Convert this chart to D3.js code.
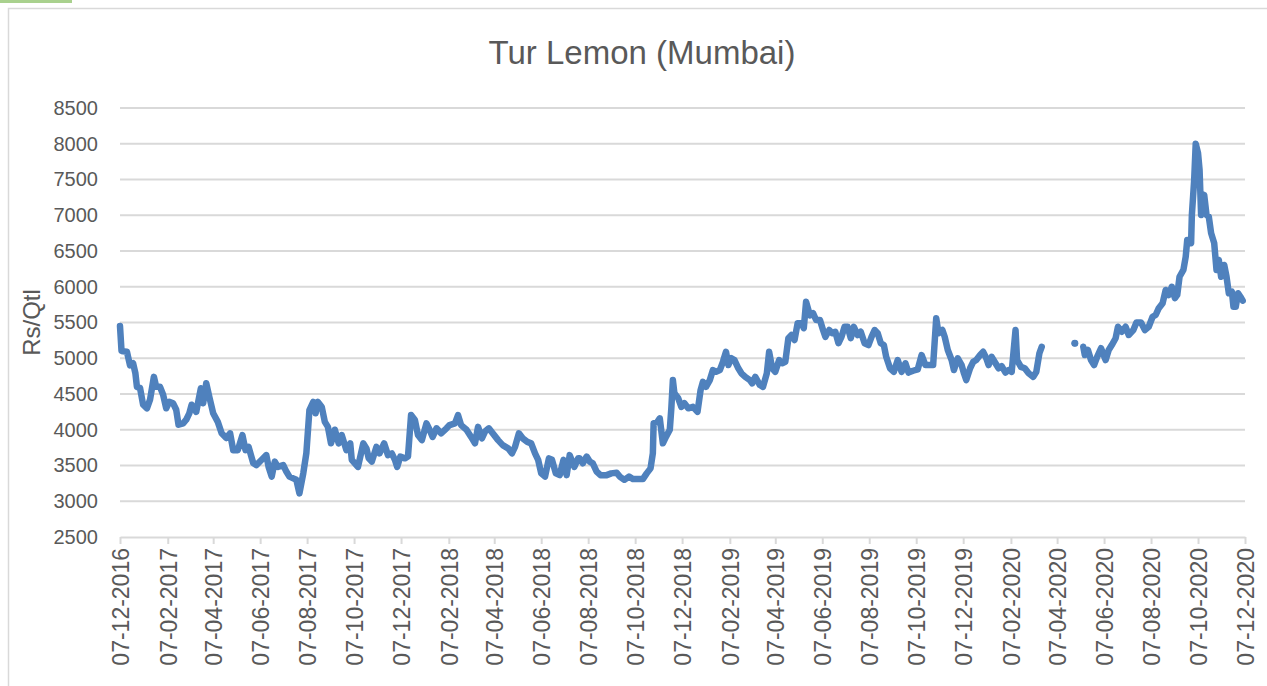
<!DOCTYPE html>
<html>
<head>
<meta charset="utf-8">
<script src="https://cdn.jsdelivr.net/npm/d3@7"></script>
<style>
  body { margin: 0; background: #fff; }
  svg { display: block; font-family: "Liberation Sans", Arial, sans-serif; }
</style>
</head>
<body>
<div id="vis1"></div>
<script>
// daily Tur Lemon price, Mumbai (Rs/Qtl); null = no quote
let dates = [
  "2016-12-07","2016-12-09","2016-12-16","2016-12-20","2016-12-24","2016-12-27","2016-12-29",
  "2017-01-02","2017-01-06","2017-01-11","2017-01-15","2017-01-20","2017-01-23","2017-01-28",
  "2017-02-01","2017-02-05","2017-02-09","2017-02-14","2017-02-18","2017-02-21","2017-02-27",
  "2017-03-03","2017-03-07","2017-03-10","2017-03-16","2017-03-22","2017-03-25","2017-03-29",
  "2017-04-02","2017-04-07","2017-04-13","2017-04-18","2017-04-24","2017-04-29",
  "2017-05-03","2017-05-09","2017-05-15","2017-05-19","2017-05-23","2017-05-29",
  "2017-06-02","2017-06-09","2017-06-15","2017-06-18","2017-06-22","2017-06-26","2017-06-30",
  "2017-07-07","2017-07-11","2017-07-15","2017-07-20","2017-07-24","2017-07-28",
  "2017-08-02","2017-08-06","2017-08-10","2017-08-15","2017-08-18","2017-08-21","2017-08-26","2017-08-30",
  "2017-09-03","2017-09-07","2017-09-12","2017-09-17","2017-09-21","2017-09-27",
  "2017-10-02","2017-10-04","2017-10-08","2017-10-12","2017-10-19","2017-10-23","2017-10-26","2017-10-30",
  "2017-11-05","2017-11-09","2017-11-15","2017-11-20","2017-11-25","2017-11-29",
  "2017-12-02","2017-12-06","2017-12-12","2017-12-16","2017-12-20","2017-12-25","2017-12-29",
  "2018-01-03","2018-01-09","2018-01-13","2018-01-17","2018-01-22","2018-01-28",
  "2018-02-04","2018-02-08","2018-02-15","2018-02-19","2018-02-23",
  "2018-03-02","2018-03-08","2018-03-13","2018-03-17","2018-03-22","2018-03-26","2018-03-31",
  "2018-04-05","2018-04-12","2018-04-18","2018-04-25","2018-04-30",
  "2018-05-04","2018-05-09","2018-05-14","2018-05-20","2018-05-25","2018-05-30",
  "2018-06-03","2018-06-07","2018-06-12","2018-06-17","2018-06-21","2018-06-26",
  "2018-07-01","2018-07-06","2018-07-10","2018-07-14","2018-07-20","2018-07-25","2018-07-27","2018-07-31",
  "2018-08-05","2018-08-09","2018-08-13","2018-08-18","2018-08-23","2018-08-31",
  "2018-09-06","2018-09-13","2018-09-17","2018-09-23","2018-09-29",
  "2018-10-04","2018-10-11","2018-10-17","2018-10-22","2018-10-27","2018-10-30","2018-10-31",
  "2018-11-05","2018-11-08","2018-11-12","2018-11-16","2018-11-21","2018-11-23","2018-11-25","2018-11-27",
  "2018-12-02","2018-12-06","2018-12-10","2018-12-15","2018-12-21","2018-12-27","2018-12-31",
  "2019-01-03","2019-01-07","2019-01-12","2019-01-16","2019-01-20","2019-01-25","2019-01-29",
  "2019-02-02","2019-02-05","2019-02-09","2019-02-13","2019-02-18","2019-02-22","2019-02-27",
  "2019-03-05","2019-03-08","2019-03-12","2019-03-18","2019-03-22","2019-03-27","2019-03-30",
  "2019-04-03","2019-04-07","2019-04-12","2019-04-16","2019-04-20","2019-04-24","2019-04-28",
  "2019-05-02","2019-05-06","2019-05-11","2019-05-14","2019-05-17","2019-05-22","2019-05-26","2019-05-30",
  "2019-06-04","2019-06-08","2019-06-11","2019-06-16","2019-06-20","2019-06-24","2019-06-28",
  "2019-07-02","2019-07-06","2019-07-10","2019-07-14","2019-07-18","2019-07-23","2019-07-27",
  "2019-08-01","2019-08-06","2019-08-10","2019-08-14","2019-08-18","2019-08-22","2019-08-26","2019-08-29",
  "2019-09-03","2019-09-08","2019-09-13","2019-09-18","2019-09-23","2019-09-27",
  "2019-10-03","2019-10-09","2019-10-14","2019-10-19","2019-10-25","2019-10-29",
  "2019-11-02","2019-11-05","2019-11-10","2019-11-13","2019-11-17","2019-11-22","2019-11-25","2019-11-30",
  "2019-12-05","2019-12-08","2019-12-11","2019-12-16","2019-12-20","2019-12-24","2019-12-29",
  "2020-01-02","2020-01-06","2020-01-09","2020-01-13","2020-01-18","2020-01-22","2020-01-26","2020-01-31",
  "2020-02-04","2020-02-08","2020-02-13","2020-02-15","2020-02-20","2020-02-25",
  "2020-03-01","2020-03-07","2020-03-11","2020-03-15","2020-03-18","2020-04-10",
  "2020-04-30","2020-05-05",
  "2020-05-11","2020-05-13","2020-05-17","2020-05-21","2020-05-25","2020-05-29",
  "2020-06-03","2020-06-09","2020-06-13","2020-06-17","2020-06-22","2020-06-25","2020-06-30",
  "2020-07-05","2020-07-09","2020-07-15","2020-07-19","2020-07-25","2020-07-30",
  "2020-08-04","2020-08-09","2020-08-13","2020-08-17","2020-08-22","2020-08-26","2020-08-30",
  "2020-09-03","2020-09-07","2020-09-10","2020-09-13","2020-09-18","2020-09-21","2020-09-23","2020-09-28","2020-09-29",
  "2020-10-02","2020-10-04","2020-10-07","2020-10-09","2020-10-11","2020-10-15","2020-10-18","2020-10-21","2020-10-24","2020-10-28","2020-10-31",
  "2020-11-03","2020-11-06","2020-11-10","2020-11-13","2020-11-16","2020-11-20","2020-11-22","2020-11-25","2020-11-28",
  "2020-12-01","2020-12-04"
];

let prices = [
  5450,5100,5090,4900,4930,4790,4600,
  4585,4350,4300,4420,4740,4600,4600,
  4490,4300,4390,4370,4280,4070,4090,
  4140,4230,4350,4250,4580,4370,4650,
  4460,4230,4110,3950,3885,3950,
  3715,3715,3925,3715,3760,3535,
  3505,3580,3645,3480,3345,3555,3480,
  3505,3415,3345,3320,3300,3110,
  3390,3670,4275,4390,4230,4390,4320,4110,
  4040,3810,4000,3810,3925,3715,
  3810,3580,3530,3480,3810,3740,3600,3555,
  3760,3670,3810,3645,3670,3580,
  3480,3625,3600,3625,4205,4135,3925,
  3855,4090,4000,3900,4020,3950,
  4020,4065,4090,4205,4065,
  4000,3900,3810,4040,3880,3975,4020,
  3950,3855,3785,3740,3670,
  3760,3950,3880,3830,3810,3670,
  3580,3390,3345,3600,3580,3390,
  3365,3580,3365,3645,3480,3600,3600,3530,
  3625,3555,3530,3415,3365,3365,
  3390,3400,3345,3300,3345,
  3310,3310,3310,3390,3460,3670,4090,
  4110,4160,3810,3900,4000,4300,4695,4510,
  4440,4320,4370,4300,4320,4250,4555,
  4670,4600,4695,4835,4810,4835,4950,
  5090,4905,5000,4975,4860,4790,4740,
  4695,4650,4740,4625,4600,4790,5090,
  4860,4810,4975,4930,4950,5280,5325,
  5255,5490,5490,5420,5790,5600,5630,5535,
  5535,5395,5300,5395,5350,5370,5210,
  5300,5440,5440,5280,5440,5325,5370,
  5210,5185,5300,5395,5350,5210,5185,5020,
  4860,4810,4975,4810,4930,4800,
  4825,4845,5045,4905,4905,4905,
  5560,5350,5395,5300,5115,4975,4835,5000,
  4905,4790,4695,4860,4950,4975,5045,
  5090,5000,4905,5020,4930,4860,4890,4800,
  4835,4810,5395,4975,4880,4860,
  4790,4740,4810,5070,5160,null,
  5210,null,
  5160,5045,5115,4975,4905,5020,
  5140,4975,5115,5185,5280,5440,5370,
  5440,5325,5395,5500,5500,5395,
  5440,5580,5605,5700,5770,5955,5885,
  6000,5840,5885,6140,6235,6420,6655,6610,7005,
  7495,8000,7870,7635,7005,7285,7005,6980,6750,6610,6235,
  6375,6140,6305,6140,5910,5930,5720,5720,5910,
  5860,5805
];

let yTicks = [2500, 3000, 3500, 4000, 4500, 5000, 5500, 6000, 6500, 7000, 7500, 8000, 8500];
let xTickLabels = [
  "07-12-2016","07-02-2017","07-04-2017","07-06-2017","07-08-2017","07-10-2017","07-12-2017",
  "07-02-2018","07-04-2018","07-06-2018","07-08-2018","07-10-2018","07-12-2018",
  "07-02-2019","07-04-2019","07-06-2019","07-08-2019","07-10-2019","07-12-2019",
  "07-02-2020","07-04-2020","07-06-2020","07-08-2020","07-10-2020","07-12-2020"
];

let W = 1267, H = 686;
let margin = { top: 108, left: 120, right: 22, bottom: 149 };

let parseIso = d3.timeParse("%Y-%m-%d");
let parseTick = d3.timeParse("%d-%m-%Y");
let fmtTick = d3.timeFormat("%d-%m-%Y");

let data = dates.map((d, i) => ({ date: parseIso(d), value: prices[i] }));
let tickDates = xTickLabels.map(parseTick);

let svg = d3.select('#vis1')
  .append("svg")
  .attr("width", W)
  .attr("height", H);

// chart area border + clipped bits of the page around it
svg.append("rect")
  .attr("x", 0).attr("y", 0).attr("width", 72).attr("height", 3)
  .attr("fill", "#a9d18e");
svg.append("rect")
  .attr("x", 8.5).attr("y", 8.5)
  .attr("width", W + 20).attr("height", H + 20)
  .attr("fill", "none")
  .attr("stroke", "#d9d9d9")
  .attr("stroke-width", 1.5);

let x = d3.scaleTime()
  .domain([tickDates[0], tickDates[tickDates.length - 1]])
  .range([margin.left, W - margin.right]);

let y = d3.scaleLinear()
  .domain([2500, 8500])
  .range([H - margin.bottom, margin.top]);

// title
svg.append("text")
  .attr("x", 642)
  .attr("y", 64)
  .attr("text-anchor", "middle")
  .attr("fill", "#595959")
  .style("font-size", "33px")
  .text("Tur Lemon (Mumbai)");

// gridlines
svg.append("g")
  .selectAll("line")
  .data(yTicks.slice(1))
  .join("line")
  .attr("x1", margin.left)
  .attr("x2", W - margin.right)
  .attr("y1", d => y(d))
  .attr("y2", d => y(d))
  .attr("stroke", "#d9d9d9")
  .attr("stroke-width", 2);

// y axis labels
let yAxis = svg.append("g")
  .attr("transform", `translate(${margin.left},0)`)
  .call(d3.axisLeft(y).tickValues(yTicks).tickFormat(d3.format("d")).tickSize(0).tickPadding(22));
yAxis.select(".domain").remove();
yAxis.selectAll("text")
  .attr("fill", "#595959")
  .style("font-size", "20px")
  .style("font-family", "Liberation Sans, Arial, sans-serif");

svg.append("text")
  .attr("transform", `translate(40,${(margin.top + H - margin.bottom) / 2}) rotate(-90)`)
  .attr("text-anchor", "middle")
  .attr("fill", "#595959")
  .style("font-size", "24px")
  .text("Rs/Qtl");

// x axis
let xAxis = svg.append("g")
  .attr("transform", `translate(0,${y(2500)})`)
  .call(d3.axisBottom(x).tickValues(tickDates).tickFormat(fmtTick).tickSize(7).tickSizeOuter(0));
xAxis.select(".domain").attr("stroke", "#d9d9d9").attr("stroke-width", 2);
xAxis.selectAll(".tick line").attr("stroke", "#d9d9d9").attr("stroke-width", 2);
xAxis.selectAll("text")
  .attr("fill", "#595959")
  .style("font-size", "23px")
  .style("font-family", "Liberation Sans, Arial, sans-serif")
  .attr("text-anchor", "end")
  .attr("transform", "rotate(-90)")
  .attr("x", -11)
  .attr("y", 0)
  .attr("dy", "0.36em");

// price line
let line = d3.line()
  .defined(d => d.value != null)
  .x(d => x(d.date))
  .y(d => y(d.value));

svg.append("path")
  .datum(data)
  .attr("fill", "none")
  .attr("stroke", "#4f81bd")
  .attr("stroke-width", 6.5)
  .attr("stroke-linejoin", "round")
  .attr("stroke-linecap", "round")
  .attr("d", line);

// lone quotes with no neighbour show as a dot
let lone = data.filter((d, i) => d.value != null &&
  (i === 0 || data[i - 1].value == null) &&
  (i === data.length - 1 || data[i + 1].value == null));
svg.append("g")
  .selectAll("circle")
  .data(lone)
  .join("circle")
  .attr("cx", d => x(d.date))
  .attr("cy", d => y(d.value))
  .attr("r", 3.5)
  .attr("fill", "#4f81bd");
</script>
</body>
</html>
